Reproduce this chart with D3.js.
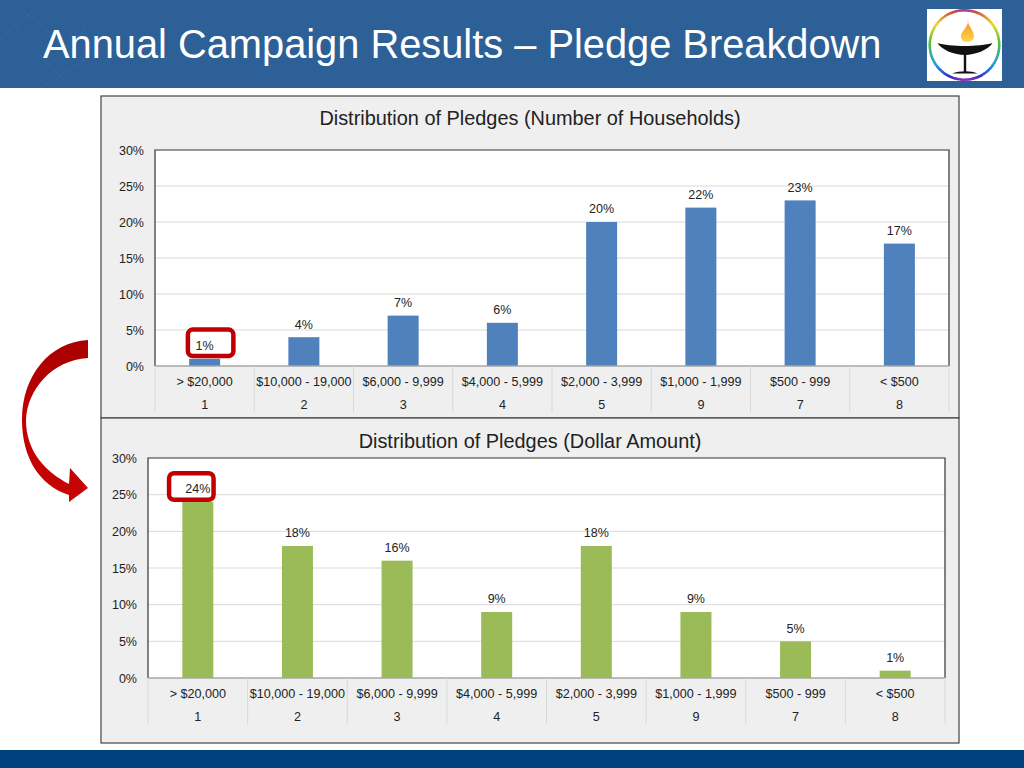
<!DOCTYPE html>
<html>
<head>
<meta charset="utf-8">
<title>Annual Campaign Results</title>
<script src="https://cdn.jsdelivr.net/npm/d3@7"></script>
<style>
  html, body { margin: 0; padding: 0; background: #fff; }
  svg { display: block; }
  text { font-family: "Liberation Sans", Arial, sans-serif; fill: #222; }
</style>
</head>
<body>
<svg id="slide" width="1024" height="768"></svg>
<script>
const slideTitle = "Annual Campaign Results \u2013 Pledge Breakdown";
const ranges = ["> $20,000", "$10,000 - 19,000", "$6,000 - 9,999", "$4,000 - 5,999", "$2,000 - 3,999", "$1,000 - 1,999", "$500 - 999", "< $500"];
const rankRow = ["1", "2", "3", "4", "5", "9", "7", "8"];
const householdShare = [1, 4, 7, 6, 20, 22, 23, 17];
const dollarShare = [24, 18, 16, 9, 18, 9, 5, 1];
const percentTicks = [0, 5, 10, 15, 20, 25, 30];

const svg = d3.select("#slide");
const defs = svg.append("defs");

// header and footer bands
svg.append("rect").attr("width", 1024).attr("height", 88).attr("fill", "#2d6097");
svg.append("rect").attr("y", 750).attr("width", 1024).attr("height", 18).attr("fill", "#02417f");

// faint folded pattern in the header corner
svg.append("path")
  .attr("d", "M10,0L85,60L40,88M45,0L0,40M0,10L70,88M85,30L45,70M130,0L75,30")
  .attr("fill", "none").attr("stroke", "#4a78a8").attr("stroke-opacity", 0.3);

svg.append("text").attr("x", 43).attr("y", 58)
  .attr("font-size", 39.8).style("fill", "#fff").text(slideTitle);

// logo
const logo = svg.append("g").attr("transform", "translate(964.5,45)");
logo.append("rect").attr("x", -37.5).attr("y", -36).attr("width", 75).attr("height", 72).attr("fill", "#fff");
const ringColor = d3.scaleLinear()
  .domain([0, 0.12, 0.3, 0.48, 0.68, 0.85, 1])
  .range(["#a03a9a", "#d8503a", "#eddc20", "#50c040", "#20a0e0", "#3030c8", "#9a30b0"]);
const ringArc = d3.arc().innerRadius(33.5).outerRadius(36);
d3.range(72).forEach(i => {
  const a0 = i / 72 * 2 * Math.PI, a1 = (i + 1.3) / 72 * 2 * Math.PI;
  const t = i < 36 ? (i + 0.5) / 36 : (71.5 - i) / 36;
  logo.append("path").attr("d", ringArc({startAngle: a0, endAngle: a1})).attr("fill", ringColor(t));
});
const flameGrad = defs.append("linearGradient").attr("id", "flame").attr("x1", 0).attr("y1", 0).attr("x2", 0).attr("y2", 1);
flameGrad.append("stop").attr("offset", "0").attr("stop-color", "#f08a20");
flameGrad.append("stop").attr("offset", "1").attr("stop-color", "#ffd94a");
logo.append("path").attr("d", "M3.5,-27C2,-20 9,-16 9.5,-9C9.5,-5 6,-3 2,-3C-2,-3 -4,-6 -3.5,-10C-2,-15 5,-19 3.5,-27Z").attr("fill", "url(#flame)");
logo.append("path").attr("d", "M-27,-2C-15,2 15,2 28,-2C24,5 10,10 0.5,10C-10,10 -23,5 -27,-2Z").attr("fill", "#111");
logo.append("rect").attr("x", -0.7).attr("y", 9).attr("width", 2.4).attr("height", 18).attr("fill", "#111");
logo.append("path").attr("d", "M-12.5,28.5C-5,25.5 7,25.5 13,28.5Z").attr("fill", "#111");

// one chart panel, with the category table underneath the plot
function drawPanel(cfg) {
  const panel = svg.append("g");
  panel.append("rect")
    .attr("x", 101).attr("y", cfg.panelTop)
    .attr("width", 858).attr("height", cfg.panelBottom - cfg.panelTop)
    .attr("fill", "#efefef").attr("stroke", "#444").attr("stroke-width", 1.2);

  panel.append("text").attr("x", 530).attr("y", cfg.titleY)
    .attr("text-anchor", "middle").attr("font-size", 19.9).text(cfg.title);

  const x = d3.scaleBand().domain(ranges.map((d, i) => i)).range([cfg.left, cfg.right]).paddingInner(0);
  const y = d3.scaleLinear().domain([0, 30]).range([cfg.bottom, cfg.top]);
  const barW = 31;

  panel.append("rect").attr("x", cfg.left).attr("y", cfg.top)
    .attr("width", cfg.right - cfg.left).attr("height", cfg.bottom - cfg.top).attr("fill", "#fff");

  panel.append("g").selectAll("line").data(percentTicks.slice(1, -1)).join("line")
    .attr("x1", cfg.left).attr("x2", cfg.right)
    .attr("y1", d => y(d)).attr("y2", d => y(d))
    .attr("stroke", "#d9d9d9");

  panel.append("g").selectAll("rect").data(cfg.values).join("rect")
    .attr("x", (d, i) => x(i) + x.bandwidth() / 2 - barW / 2)
    .attr("width", barW)
    .attr("y", d => y(d))
    .attr("height", d => cfg.bottom - y(d))
    .attr("fill", cfg.color);

  // plot frame
  panel.append("path")
    .attr("d", `M${cfg.left},${cfg.bottom}V${cfg.top}H${cfg.right}V${cfg.bottom}`)
    .attr("fill", "none").attr("stroke", "#333").attr("stroke-width", 1.2);
  panel.append("line")
    .attr("x1", cfg.left).attr("x2", cfg.right).attr("y1", cfg.bottom).attr("y2", cfg.bottom)
    .attr("stroke", "#a6a6a6").attr("stroke-width", 1.5);

  const yAxis = panel.append("g").attr("transform", `translate(${cfg.left},0)`)
    .call(d3.axisLeft(y).tickValues(percentTicks).tickSize(0).tickPadding(cfg.tickPad).tickFormat(d => d + "%"));
  yAxis.select(".domain").remove();
  yAxis.selectAll("text").attr("font-size", 12.5).style("fill", "#222");

  // table dividers below the axis
  panel.append("g").selectAll("line").data(d3.range(ranges.length + 1)).join("line")
    .attr("x1", d => cfg.left + d * x.step()).attr("x2", d => cfg.left + d * x.step())
    .attr("y1", cfg.bottom).attr("y2", cfg.bottom + 46)
    .attr("stroke", "#d9d9d9");

  const rangeAxis = panel.append("g").attr("transform", `translate(0,${cfg.bottom})`)
    .call(d3.axisBottom(x).tickSize(0).tickPadding(11).tickFormat(i => ranges[i]));
  const rankAxis = panel.append("g").attr("transform", `translate(0,${cfg.bottom})`)
    .call(d3.axisBottom(x).tickSize(0).tickPadding(34).tickFormat(i => rankRow[i]));
  [rangeAxis, rankAxis].forEach(a => {
    a.select(".domain").remove();
    a.selectAll("text").attr("font-size", 12.6).style("fill", "#222");
  });

  // highlight box goes under the labels
  const hi = cfg.highlight;
  panel.append("rect")
    .attr("x", x(0) + x.bandwidth() / 2 + hi.dx - hi.w / 2)
    .attr("y", y(cfg.values[0]) - 13 - hi.h / 2 + hi.dy)
    .attr("width", hi.w).attr("height", hi.h).attr("rx", 5)
    .attr("fill", "#fff").attr("stroke", "#c00000").attr("stroke-width", 4.5);

  panel.append("g").selectAll("text").data(cfg.values).join("text")
    .attr("x", (d, i) => x(i) + x.bandwidth() / 2)
    .attr("y", d => y(d) - 13)
    .attr("dy", "0.35em")
    .attr("text-anchor", "middle").attr("font-size", 12.5)
    .text(d => d + "%");
}

drawPanel({
  title: "Distribution of Pledges (Number of Households)",
  values: householdShare, color: "#4f81bd",
  panelTop: 96, panelBottom: 418, titleY: 125,
  left: 155, right: 949, top: 150, bottom: 366, tickPad: 11,
  highlight: {w: 45.5, h: 26.5, dx: 6, dy: -3}
});

drawPanel({
  title: "Distribution of Pledges (Dollar Amount)",
  values: dollarShare, color: "#9bbb59",
  panelTop: 418, panelBottom: 743, titleY: 448,
  left: 148, right: 945, top: 458, bottom: 678, tickPad: 11,
  highlight: {w: 44.5, h: 26.5, dx: -6.5, dy: -2.5}
});

// red arrow linking the two highlighted labels
const arrowGrad = defs.append("linearGradient").attr("id", "arrowRed").attr("x1", 0).attr("y1", 0).attr("x2", 0).attr("y2", 1);
arrowGrad.append("stop").attr("offset", "0").attr("stop-color", "#a80000");
arrowGrad.append("stop").attr("offset", "0.5").attr("stop-color", "#c00000");
arrowGrad.append("stop").attr("offset", "1").attr("stop-color", "#c80404");
svg.append("path")
  .attr("d", "M88,340C50,342 22,375 22,420C22,458 40,486 69,495L69,502L88,488L70,468L69,484C46,472 26,452 26,420C27,390 52,360 88,358Z")
  .attr("fill", "url(#arrowRed)");
</script>
</body>
</html>
